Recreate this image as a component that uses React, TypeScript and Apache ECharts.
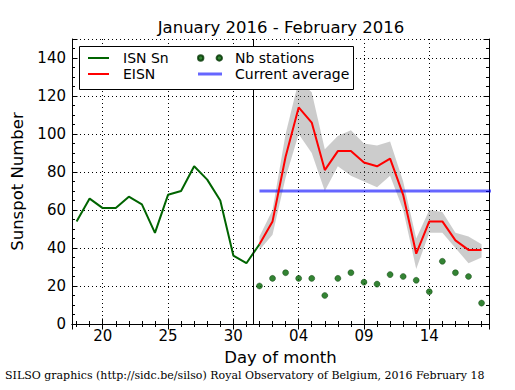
import React, { useEffect, useRef } from 'react';
import * as echarts from 'echarts';

// Day index: Jan 1 = 1 ... Jan 31 = 31, Feb 1 = 32 ... Feb 18 = 49
const isnDays = [18, 19, 20, 21, 22, 23, 24, 25, 26, 27, 28, 29, 30, 31, 32];
const isnValues = [54, 66, 61, 61, 67, 63, 48, 68, 70, 83, 76, 65, 36, 32, 42];

const eisnDays = [32, 33, 34, 35, 36, 37, 38, 39, 40, 41, 42, 43, 44, 45, 46, 47, 48, 49];
const eisnValues = [42, 54, 88, 114, 106, 81, 91, 91, 85, 83, 87, 68, 37, 54, 54, 44, 39, 39];
const eisnLower = [39, 47, 77, 100, 90, 70, 83, 78, 75, 72, 78, 60, 29, 48, 48, 40, 32, 35];
const eisnUpper = [46, 60, 100, 128, 122, 92, 99, 102, 95, 94, 96, 75, 45, 60, 59, 48, 46, 42];
const stationCounts = [20, 24, 27, 24, 24, 15, 24, 27, 22, 21, 26, 25, 23, 17, 33, 27, 25, 11];

const averageDays = [32, 50];
const averageValue = 70;
const separatorDay = 31.5;

const titleText = 'January 2016 - February 2016';
const xName = 'Day of month';
const yName = 'Sunspot Number';
const footerText = 'SILSO graphics (http://sidc.be/silso) Royal Observatory of Belgium, 2016 February 18';

const FONT = 'DejaVu Sans';

function dayLabel(v: number): string {
  if (Math.abs(v - Math.round(v)) > 1e-6) return '';
  const d = Math.round(v);
  return d > 31 ? String(d - 31).padStart(2, '0') : String(d);
}

const LINE_ICON = 'path://M0,0H21V2H0Z';
const DOTS_ICON =
  'path://M0,2.7A2.7,2.7,0,1,0,5.4,2.7A2.7,2.7,0,1,0,0,2.7ZM18.6,2.7A2.7,2.7,0,1,0,24,2.7A2.7,2.7,0,1,0,18.6,2.7Z';
const WIDE_LINE_ICON = 'path://M0,0H24V3H0Z';

export default function App() {
  const ref = useRef<HTMLDivElement>(null);

  useEffect(() => {
    document.body.style.margin = '0';
    if (!ref.current) return;
    const chart = echarts.init(ref.current, undefined, { renderer: 'svg' });

    const pair = (xs: number[], ys: number[]) => xs.map((x, i) => [x, ys[i]]);
    const bandData = eisnDays.map((d, i) => [d, eisnLower[i], eisnUpper[i]]);

    const tickCommon = {
      axisLine: { show: true, lineStyle: { color: '#000', width: 1 } },
      axisTick: { show: true, inside: true, length: 5.5, lineStyle: { color: '#000', width: 1 } },
      minorTick: { show: true, length: 3, lineStyle: { color: '#000', width: 1 } },
    };

    const option: any = {
      animation: false,
      title: {
        text: titleText,
        left: 281,
        top: 19,
        padding: 0,
        textAlign: 'center',
        textStyle: { fontFamily: FONT, fontSize: 16.5, fontWeight: 'normal', color: '#000', lineHeight: 17 },
      },
      grid: { left: 72, right: 26, top: 39, bottom: 66 },
      xAxis: [
        {
          type: 'value',
          min: 17.65,
          max: 49.57,
          position: 'bottom',
          ...tickCommon,
          minorTick: { ...tickCommon.minorTick, splitNumber: 5 },
          axisLabel: {
            show: true,
            margin: 4,
            fontFamily: FONT,
            fontSize: 15,
            color: '#000',
            showMinLabel: false,
            showMaxLabel: false,
            formatter: (v: number) => dayLabel(v),
          },
          splitLine: { show: true, lineStyle: { color: '#000', width: 1, type: [1, 3] } },
          name: xName,
          nameLocation: 'middle',
          nameGap: 25,
          nameTextStyle: { fontFamily: FONT, fontSize: 16.5, color: '#000' },
        },
        {
          type: 'value',
          min: 17.65,
          max: 49.57,
          position: 'top',
          ...tickCommon,
          minorTick: { ...tickCommon.minorTick, splitNumber: 5 },
          axisLabel: { show: false },
          splitLine: { show: false },
        },
      ],
      yAxis: [
        {
          type: 'value',
          min: 0,
          max: 150,
          interval: 20,
          position: 'left',
          ...tickCommon,
          minorTick: { ...tickCommon.minorTick, splitNumber: 4 },
          axisLabel: {
            show: true,
            margin: 6,
            fontFamily: FONT,
            fontSize: 15,
            color: '#000',
            showMaxLabel: false,
          },
          splitLine: { show: true, lineStyle: { color: '#000', width: 1, type: [1, 3] } },
          name: yName,
          nameLocation: 'middle',
          nameGap: 37,
          nameTextStyle: { fontFamily: FONT, fontSize: 16.5, color: '#000' },
        },
        {
          type: 'value',
          min: 0,
          max: 150,
          interval: 20,
          position: 'right',
          ...tickCommon,
          minorTick: { ...tickCommon.minorTick, splitNumber: 4 },
          axisLabel: { show: false },
          splitLine: { show: false },
        },
      ],
      legend: [
        {
          orient: 'vertical',
          left: 88,
          top: 50,
          padding: 0,
          itemWidth: 21,
          itemHeight: 16,
          itemGap: 0,
          selectedMode: false,
          z: 100,
          textStyle: { fontFamily: FONT, fontSize: 14, lineHeight: 16, color: '#000', padding: [0, 0, 0, 9] },
          data: [
            { name: 'ISN Sn', icon: LINE_ICON },
            { name: 'EISN', icon: LINE_ICON },
          ],
        },
        {
          orient: 'vertical',
          left: 197,
          top: 50,
          padding: 0,
          itemWidth: 24,
          itemHeight: 16,
          itemGap: 0,
          selectedMode: false,
          z: 100,
          textStyle: { fontFamily: FONT, fontSize: 14, lineHeight: 16, color: '#000', padding: [0, 0, 0, 8] },
          data: [
            { name: 'Nb stations', icon: DOTS_ICON },
            { name: 'Current average', icon: WIDE_LINE_ICON },
          ],
        },
      ],
      graphic: [
        {
          type: 'rect',
          z: 50,
          shape: { x: 79.5, y: 46.5, width: 274, height: 43 },
          style: { fill: '#fff', stroke: '#000', lineWidth: 1 },
        },
        {
          type: 'text',
          x: 5,
          y: 375.5,
          style: {
            text: footerText,
            fontFamily: 'DejaVu Serif',
            fontSize: 11,
            fill: '#000',
            verticalAlign: 'middle',
          },
        },
      ],
      series: [
        {
          name: 'EISN range',
          type: 'custom',
          data: bandData,
          silent: true,
          z: 1,
          encode: { x: 0, y: [1, 2] },
          renderItem: (params: any, api: any) => {
            if (params.dataIndex !== 0) return null;
            const top = bandData.map((p) => api.coord([p[0], p[2]]));
            const bottom = bandData
              .slice()
              .reverse()
              .map((p) => api.coord([p[0], p[1]]));
            return {
              type: 'polygon',
              shape: { points: top.concat(bottom) },
              style: { fill: 'rgba(128,128,128,0.4)', stroke: 'none' },
            };
          },
        },
        {
          name: 'Current average',
          type: 'line',
          data: averageDays.map((d) => [d, averageValue]),
          symbol: 'none',
          color: 'rgba(0,0,255,0.6)',
          lineStyle: { color: 'rgba(0,0,255,0.6)', width: 3 },
          silent: true,
          emphasis: { disabled: true },
          z: 2,
        },
        {
          name: 'ISN Sn',
          type: 'line',
          data: pair(isnDays, isnValues),
          symbol: 'none',
          color: '#006400',
          lineStyle: { color: '#006400', width: 2 },
          silent: true,
          emphasis: { disabled: true },
          z: 3,
          markLine: {
            silent: true,
            symbol: ['none', 'none'],
            label: { show: false },
            lineStyle: { color: '#000', width: 1, type: 'solid' },
            emphasis: { disabled: true },
            data: [{ xAxis: separatorDay }],
          },
        },
        {
          name: 'EISN',
          type: 'line',
          data: pair(eisnDays, eisnValues),
          symbol: 'none',
          color: '#ff0000',
          lineStyle: { color: '#ff0000', width: 2 },
          silent: true,
          emphasis: { disabled: true },
          z: 4,
        },
        {
          name: 'Nb stations',
          type: 'scatter',
          data: pair(eisnDays, stationCounts),
          symbol: 'circle',
          symbolSize: 6,
          color: '#006400',
          itemStyle: { color: '#006400', borderColor: '#003300', borderWidth: 0.5 },
          silent: true,
          emphasis: { disabled: true },
          z: 5,
        },
      ],
    };

    chart.setOption(option);
    return () => chart.dispose();
  }, []);

  return <div ref={ref} style={{ width: 515, height: 390 }} />;
}
